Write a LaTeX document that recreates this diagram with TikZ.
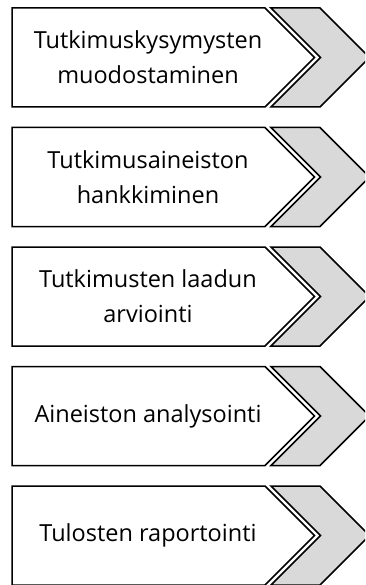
\documentclass[tikz,border=0pt]{standalone}
\usepackage{fontspec}
\setmainfont{Open Sans}
\begin{document}
\begin{tikzpicture}[x=1pt,y=-1pt,
  whitebox/.style={draw=black,fill=white,line width=1.5pt,line join=miter},
  graybox/.style={draw=black,fill=black!15,line width=1.5pt,line join=miter},
  label/.style={align=center,font=\fontsize{23.5}{35}\selectfont,text=black,inner sep=0pt}]
\useasboundingbox (0,0) rectangle (365,585);
\clip (0,0) rectangle (365,585);
\foreach \t/\n [count=\i from 0] in {{Tutkimuskysymysten\\muodostaminen}/s1,{Tutkimusaineiston\\hankkiminen}/s2,{Tutkimusten laadun\\arviointi}/s3,{Aineiston analysointi}/s4,{Tulosten raportointi}/s5}{
  \pgfmathsetmacro{\top}{8+119.5*\i}
  \pgfmathsetmacro{\bot}{\top+99}
  \pgfmathsetmacro{\mid}{\top+49.5}
  \draw[whitebox] (12,\top) -- (265,\top) -- (314.5,\mid) -- (265,\bot) -- (12,\bot) -- cycle;
  \draw[graybox] (271,\top) -- (320,\top) -- (369.5,\mid) -- (320,\bot) -- (271,\bot) -- (320.5,\mid) -- cycle;
  \node[label] (\n) at (148,\mid) {\t};
}
\end{tikzpicture}
\end{document}
